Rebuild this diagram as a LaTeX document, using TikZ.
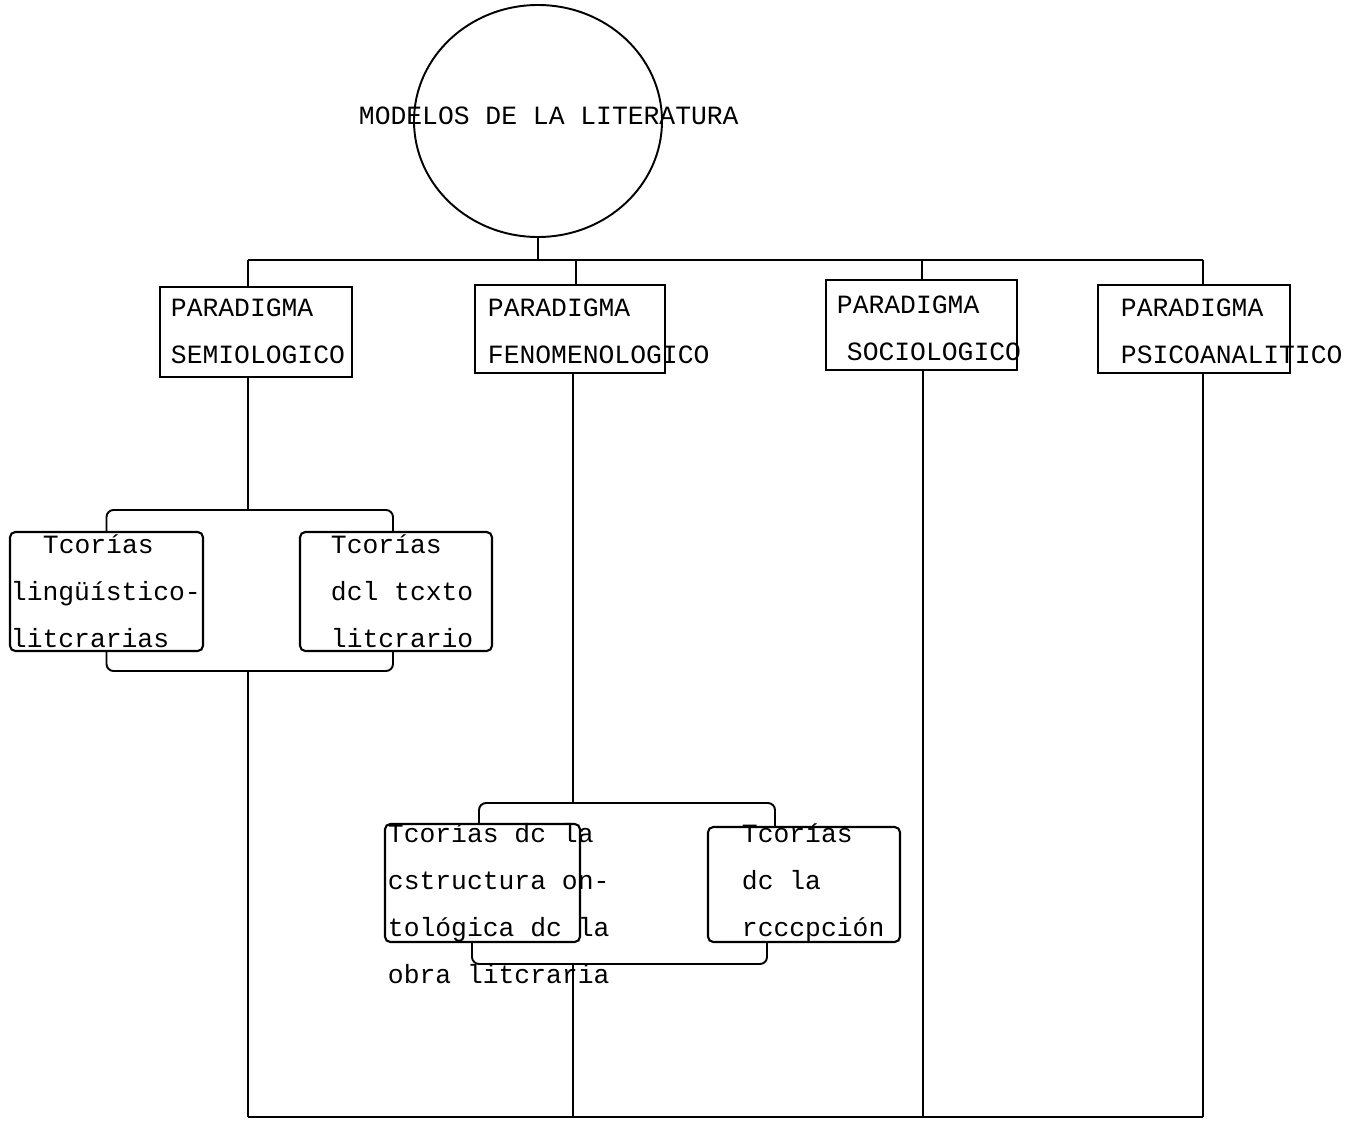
\documentclass[tikz,border=0pt]{standalone}
\usepackage{fontspec}
\setmonofont{Liberation Mono}
\usepackage{tikz}
\usetikzlibrary{arrows, positioning, shapes.geometric}

\begin{document}
\begin{tikzpicture}[line width=1.1pt,font=\ttfamily\fontsize{15}{26.7}\selectfont]
    \tikzstyle{pbox}=[draw,rectangle,line width=1.3pt,minimum width=3.84cm,minimum height=1.8cm]
    \tikzstyle{tbox}=[draw,rectangle,rounded corners=3pt,line width=1.2pt,minimum width=3.86cm,minimum height=2.38cm]
    \tikzstyle{txt}=[anchor=base west,inner sep=0pt,align=left]
    \tikzstyle{brk}=[rounded corners=4pt]

    \useasboundingbox (0,0) rectangle (27.02,-22.46);

    \node[draw,ellipse,minimum width=4.96cm,minimum height=4.64cm] (M) at (10.76,-2.42) {};
    \node[txt] (Mt) at (7.16,-2.5) {MODELOS DE LA LITERATURA};

    \node[pbox] (P1) at (5.12,-6.64) {};
    \node[pbox,minimum width=3.80cm,minimum height=1.76cm] (P2) at (11.40,-6.58) {};
    \node[pbox,minimum width=3.82cm] (P3) at (18.43,-6.50) {};
    \node[pbox,minimum height=1.76cm] (P4) at (23.88,-6.58) {};
    \node[txt] (P1t) at (3.40,-7.26) {PARADIGMA\\SEMIOLOGICO};
    \node[txt] (P2t) at (9.74,-7.26) {PARADIGMA\\FENOMENOLOGICO};
    \node[txt] (P3t) at (16.72,-7.20) {PARADIGMA\\\hspace*{0.2cm}SOCIOLOGICO};
    \node[txt] (P4t) at (22.40,-7.26) {PARADIGMA\\PSICOANALITICO};

    \node[tbox] (T1) at (2.13,-11.83) {};
    \node[tbox,minimum width=3.84cm] (T2) at (7.92,-11.83) {};
    \node[txt] (T1t) at (0.20,-12.94) {\hspace*{0.64cm}Tcorías\\lingüístico-\\litcrarias};
    \node[txt] (T2t) at (6.60,-12.94) {Tcorías\\dcl tcxto\\litcrario};

    \node[tbox,minimum width=3.90cm,minimum height=2.36cm] (T3) at (9.65,-17.66) {};
    \node[tbox,minimum width=3.84cm,minimum height=2.30cm] (T4) at (16.08,-17.69) {};
    \node[txt] (T3t) at (7.74,-19.66) {Tcorías dc la\\cstructura on-\\tológica dc la\\obra litcraria};
    \node[txt] (T4t) at (14.82,-18.72) {Tcorías\\dc la\\rcccpción};

    \coordinate (bus) at (10.76,-5.20);
    \coordinate (d1) at (4.96,-5.20);
    \coordinate (d2) at (11.52,-5.20);
    \coordinate (d3) at (18.44,-5.20);
    \coordinate (d4) at (24.06,-5.20);
    \coordinate (b1) at (4.96,-22.34);
    \coordinate (b2) at (11.46,-22.34);
    \coordinate (b3) at (18.46,-22.34);
    \coordinate (b4) at (24.06,-22.34);
    \coordinate (s1) at (4.96,-10.20);
    \coordinate (e1) at (4.96,-13.42);
    \coordinate (s2) at (11.46,-16.06);
    \coordinate (e2) at (11.46,-19.28);

    \path[draw]
    (M) edge (bus)
    (d1) edge (d4)
    (d1) edge (d1 |- P1.north)
    (d2) edge (d2 |- P2.north)
    (d3) edge (d3 |- P3.north)
    (d4) edge (d4 |- P4.north)
    (s1 |- P1.south) edge (s1)
    (s2 |- P2.south) edge (s2)
    (b3 |- P3.south) edge (b3)
    (b4 |- P4.south) edge (b4)
    (e1) edge (b1)
    (e2) edge (b2)
    (b1) edge (b4)
   ;

    \draw[brk] (T1.north) |- (s1) -| ([xshift=-0.06cm]T2.north);
    \draw[brk] (T1.south) |- (e1) -| ([xshift=-0.06cm]T2.south);
    \draw[brk] ([xshift=-0.07cm]T3.north) |- (s2) -| ([xshift=-0.58cm]T4.north);
    \draw[brk] ([xshift=-0.21cm]T3.south) |- (e2) -| ([xshift=-0.74cm]T4.south);

\end{tikzpicture}
\end{document}
